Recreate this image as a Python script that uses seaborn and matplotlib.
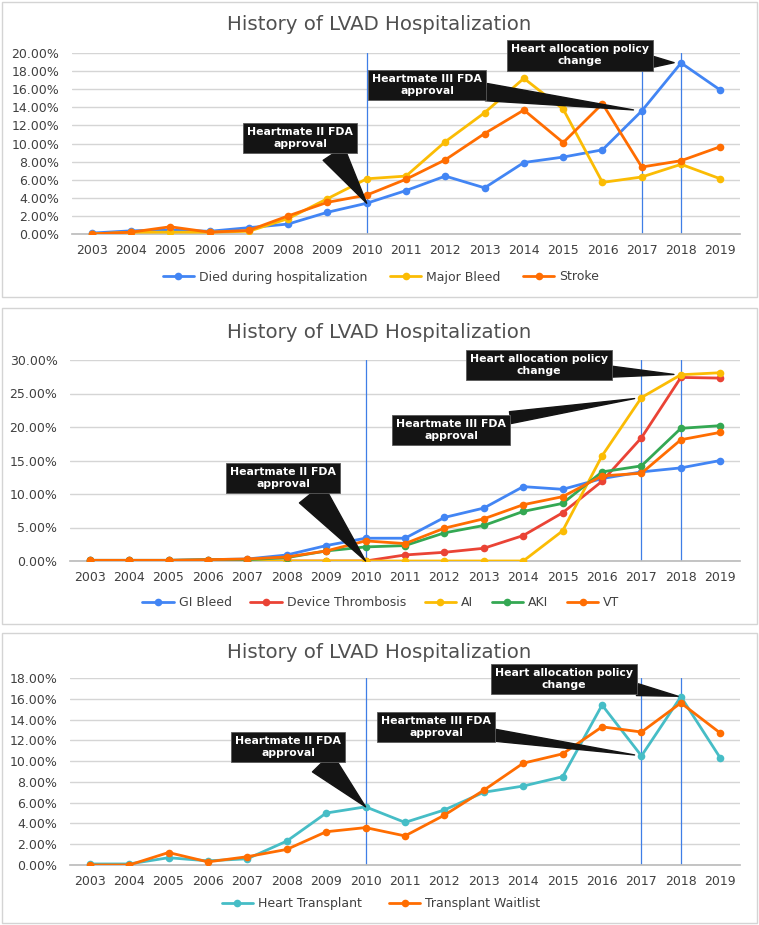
import matplotlib
matplotlib.use("Agg")
import matplotlib.pyplot as plt
import seaborn as sns
import pandas as pd
from matplotlib.lines import Line2D
from matplotlib.patches import Rectangle

W, H = 759, 925

years = list(range(2003, 2020))
year_labels = [str(y) for y in years]
title = "History of LVAD Hospitalization"

# ---- Panel 1 data (percent) ----
p1_series = ["Died during hospitalization", "Major Bleed", "Stroke"]
died = [0.1, 0.35, 0.45, 0.3, 0.7, 1.1, 2.4, 3.4, 4.8, 6.4, 5.1, 7.9, 8.5, 9.3, 13.6, 18.9, 15.9]
major_bleed = [0.0, 0.2, 0.2, 0.2, 0.3, 1.7, 3.9, 6.1, 6.4, 10.2, 13.4, 17.2, 13.8, 5.7, 6.3, 7.7, 6.1]
stroke = [0.0, 0.2, 0.8, 0.2, 0.4, 2.0, 3.5, 4.3, 6.05, 8.2, 11.1, 13.7, 10.1, 14.4, 7.4, 8.1, 9.65]
p1_yticks = [0, 2, 4, 6, 8, 10, 12, 14, 16, 18, 20]

# ---- Panel 2 data (percent) ----
p2_series = ["GI Bleed", "Device Thrombosis", "AI", "AKI", "VT"]
gi_bleed = [0.1, 0.1, 0.1, 0.2, 0.3, 0.9, 2.3, 3.4, 3.4, 6.5, 7.9, 11.1, 10.7, 12.3, 13.3, 13.9, 15.0]
device_thrombosis = [0.0, 0.0, 0.0, 0.0, 0.0, 0.0, 0.0, 0.0, 0.9, 1.3, 1.9, 3.8, 7.2, 11.9, 18.4, 27.4, 27.3]
ai = [0.0, 0.0, 0.0, 0.0, 0.0, 0.0, 0.0, 0.0, 0.0, 0.0, 0.0, 0.0, 4.5, 15.7, 24.4, 27.8, 28.1]
aki = [0.1, 0.1, 0.1, 0.2, 0.2, 0.5, 1.5, 2.1, 2.3, 4.2, 5.3, 7.4, 8.6, 13.3, 14.2, 19.8, 20.2]
vt = [0.1, 0.1, 0.1, 0.2, 0.3, 0.6, 1.5, 3.0, 2.6, 4.9, 6.3, 8.4, 9.6, 12.7, 13.1, 18.1, 19.2]
p2_yticks = [0, 5, 10, 15, 20, 25, 30]

# ---- Panel 3 data (percent) ----
p3_series = ["Heart Transplant", "Transplant Waitlist"]
heart_transplant = [0.1, 0.1, 0.7, 0.4, 0.6, 2.3, 5.0, 5.6, 4.1, 5.3, 7.0, 7.6, 8.5, 15.4, 10.5, 16.2, 10.3]
transplant_waitlist = [0.0, 0.0, 1.2, 0.3, 0.8, 1.5, 3.2, 3.6, 2.8, 4.8, 7.2, 9.8, 10.7, 13.3, 12.8, 15.6, 12.7]
p3_yticks = [0, 2, 4, 6, 8, 10, 12, 14, 16, 18]

event_years = [2010, 2017, 2018]
note_hm2 = "Heartmate II FDA\napproval"
note_hm3 = "Heartmate III FDA\napproval"
note_alloc = "Heart allocation policy\nchange"

BLUE, RED, YELLOW, GREEN, ORANGE, TEAL = "#4285F4", "#EA4335", "#FBBC04", "#34A853", "#FF6D01", "#46BDC6"

sns.set_theme(style="white")
plt.rcParams["font.family"] = ["DejaVu Sans"]

fig = plt.figure(figsize=(W / 100, H / 100), dpi=100)


def rect(l, t, r, b):
    return [l / W, 1 - b / H, (r - l) / W, (b - t) / H]


def make_panel(box, frame, series_names, values, colors, yticks, title_y, legend_y, legend_kw):
    # frame
    fl, ft, fr, fb = frame
    fig.add_artist(Rectangle((fl / W, 1 - fb / H), (fr - fl) / W, (fb - ft) / H,
                             transform=fig.transFigure, fill=False, ec="#D4D4D4", lw=1.0))
    ax = fig.add_axes(rect(*box))
    df = pd.DataFrame({
        "year": years * len(series_names),
        "value": [v for vals in values for v in vals],
        "series": [s for s in series_names for _ in years],
    })
    for yr in event_years:
        ax.axvline(yr, color="#3F7EE6", lw=0.9, zorder=1.5)
    sns.lineplot(data=df, x="year", y="value", hue="series", hue_order=series_names,
                 palette=dict(zip(series_names, colors)), marker="o", markersize=5.5,
                 markeredgewidth=0, linewidth=2.0, legend=False, ax=ax, zorder=3)
    ax.set_xlim(2002.5, 2019.5)
    ax.set_ylim(0, yticks[-1])
    ax.set_xticks(years)
    ax.set_xticklabels(year_labels)
    ax.set_yticks(yticks)
    ax.set_yticklabels([f"{v:.2f}%" for v in yticks])
    ax.set_xlabel("")
    ax.set_ylabel("")
    ax.grid(axis="y", color="#D5D5D5", lw=1.0)
    ax.grid(axis="x", visible=False)
    for s in ["top", "right", "left"]:
        ax.spines[s].set_visible(False)
    ax.spines["bottom"].set_color("#BDBDBD")
    ax.tick_params(axis="both", length=0, labelsize=9, colors="#404040")
    ax.tick_params(axis="y", pad=9)
    ax.tick_params(axis="x", pad=7)
    ax.set_axisbelow(True)
    fig.text(379 / W, 1 - title_y / H, title, ha="center", va="center",
             fontsize=14.2, color="#505050")
    handles = [Line2D([0], [0], color=c, lw=2.0, marker="o", markersize=5.5, markeredgewidth=0)
               for c in colors]
    fig.legend(handles, series_names, loc="center", bbox_to_anchor=(381 / W, 1 - legend_y / H),
               ncol=len(series_names), frameon=False, fontsize=9, handlelength=2.5,
               handletextpad=0.4, columnspacing=legend_kw, labelcolor="#404040")
    return ax


def callout(ax, text, xy, center, relpos, tail, shrink):
    ax.annotate(text, xy=xy, xycoords="data", xytext=(center[0], H - center[1]),
                textcoords="figure pixels", ha="center", va="center", color="white",
                fontweight="bold", fontsize=7.8, linespacing=1.25,
                bbox=dict(boxstyle="square,pad=0.38", fc="#141414", ec="#5A5A5A", lw=0.6),
                arrowprops=dict(arrowstyle=f"wedge,tail_width={tail},shrink_factor=0.5",
                                fc="#141414", ec="#141414", relpos=relpos,
                                shrinkA=0, shrinkB=shrink),
                zorder=10, annotation_clip=False)


# Panel 1
ax1 = make_panel((72, 53, 740, 234), (2, 2, 757, 297), p1_series,
                 [died, major_bleed, stroke], [BLUE, YELLOW, ORANGE], p1_yticks, 24, 277, 1.8)
i10, i17, i18 = years.index(2010), years.index(2017), years.index(2018)
callout(ax1, note_hm2, (2010, died[i10]), (300, 138), (0.72, 0.5), 2.3, 0)
callout(ax1, note_hm3, (2017, died[i17]), (427, 85), (0.8, 0.32), 1.6, 6)
callout(ax1, note_alloc, (2018, died[i18]), (580, 55.5), (0.8, 0.27), 1.0, 5)

# Panel 2
ax2 = make_panel((70, 360, 740, 561), (2, 308, 757, 624), p2_series,
                 [gi_bleed, device_thrombosis, ai, aki, vt],
                 [BLUE, RED, YELLOW, GREEN, ORANGE], p2_yticks, 332, 603, 1.5)
callout(ax2, note_hm2, (2010, ai[i10]), (283, 478), (0.65, 0.5), 2.8, 0)
callout(ax2, note_hm3, (2017, ai[i17]), (451, 430), (0.8, 0.88), 1.1, 5)
callout(ax2, note_alloc, (2018, ai[i18]), (539, 365), (0.8, 0.26), 1.0, 5)

# Panel 3
ax3 = make_panel((70, 678, 740, 865), (2, 633, 757, 923), p3_series,
                 [heart_transplant, transplant_waitlist], [TEAL, ORANGE], p3_yticks, 652, 904, 2.2)
callout(ax3, note_hm2, (2010, heart_transplant[i10]), (288, 747), (0.68, 0.5), 2.5, 0)
callout(ax3, note_hm3, (2017, heart_transplant[i17]), (436, 727), (0.8, 0.29), 1.1, 5)
callout(ax3, note_alloc, (2018, heart_transplant[i18]), (564, 679), (0.8, 0.25), 1.1, 2)

fig.savefig("out.png", dpi=100)
